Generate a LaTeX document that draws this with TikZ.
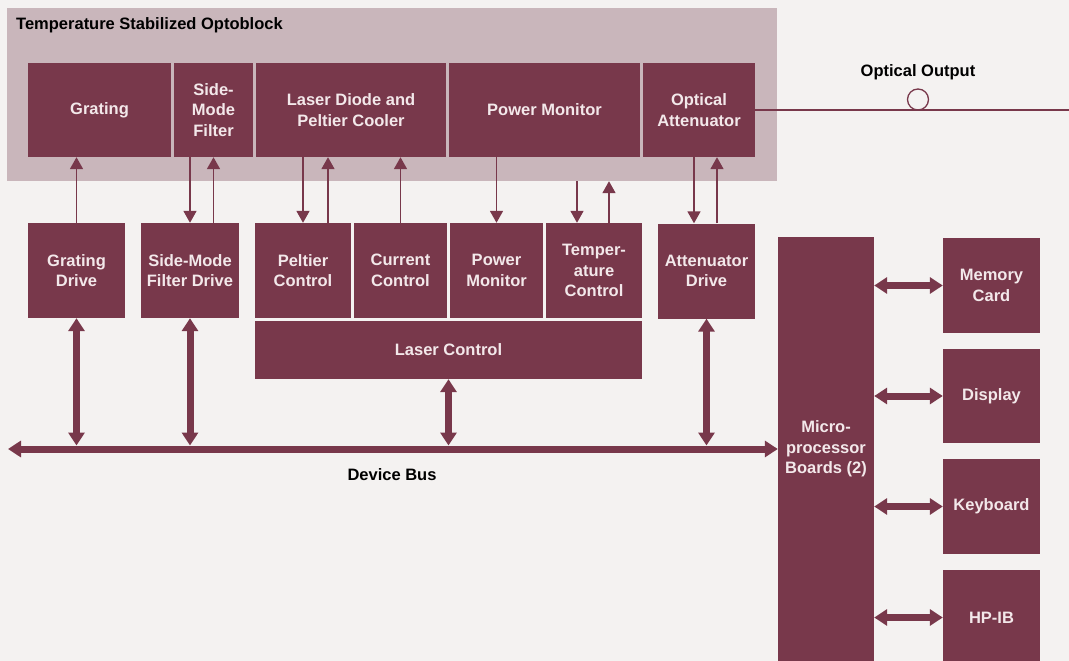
\documentclass[tikz,border=0pt]{standalone}
\usepackage{fontspec}
\setmainfont{Liberation Sans}
\usetikzlibrary{arrows.meta}

\definecolor{boxred}{RGB}{120,56,75}
\definecolor{optogrey}{RGB}{201,182,187}
\definecolor{paper}{RGB}{244,242,241}
\definecolor{boxtext}{RGB}{243,232,234}

\begin{document}
\begin{tikzpicture}[x=1pt,y=-1pt,
      every node/.style={
        inner sep=0pt,
        font=\fontsize{16.5}{20.5}\selectfont\bfseries % condensed-looking bold labels
      },
      blk/.style={fill=boxred, text=boxtext, align=center},
      sig/.style={draw=boxred, line width=1.7pt, -{Triangle[width=13pt,length=12pt]}},
      bus/.style={draw=boxred, line width=7pt,
        {Triangle[width=16pt,length=13pt]}-{Triangle[width=16pt,length=13pt]}}
      ]
      \clip (0,0) rectangle (1069,661);
      \fill[paper] (0,0) rectangle (1069,661);

      % optoblock
      \node[fill=optogrey, minimum width=770pt, minimum height=173pt] (opto) at (392,94.5) {};
      \node[anchor=west] (title) at (16,25) {Temperature Stabilized Optoblock};

      \node[blk, minimum width=143pt, minimum height=94pt] (grat) at (99.5,110) {Grating};
      \node[blk, minimum width=79pt, minimum height=94pt] (smf) at (213.5,110) {Side-\\Mode\\Filter};
      \node[blk, minimum width=190pt, minimum height=94pt] (ldpc) at (351,110) {Laser Diode and\\Peltier Cooler};
      \node[blk, minimum width=191pt, minimum height=94pt] (pmon) at (544.5,110) {Power Monitor};
      \node[blk, minimum width=112pt, minimum height=94pt] (oatt) at (699,110) {Optical\\Attenuator};

      % drives and controls
      \node[blk, minimum width=97pt, minimum height=95pt] (gdrv) at (76.5,270.5) {Grating\\Drive};
      \node[blk, minimum width=98pt, minimum height=95pt] (sdrv) at (190,270.5) {Side-Mode\\Filter Drive};
      \node[blk, minimum width=96pt, minimum height=95pt] (pelt) at (303,270.5) {Peltier\\Control};
      \node[blk, minimum width=93pt, minimum height=95pt] (curr) at (400.5,270.5) {Current\\Control};
      \node[blk, minimum width=93pt, minimum height=95pt] (pmc) at (496.5,270.5) {Power\\Monitor};
      \node[blk, minimum width=96pt, minimum height=95pt] (temp) at (594,270.5) {Temper-\\ature\\Control};
      \node[blk, minimum width=387pt, minimum height=58pt] (lctl) at (448.5,350) {Laser Control};
      \node[blk, minimum width=97pt, minimum height=95pt] (adrv) at (706.5,271) {Attenuator\\Drive};

      % processor side
      \node[blk, minimum width=96pt, minimum height=424pt] (micro) at (826,449) {Micro-\\processor\\Boards (2)};
      \node[blk, minimum width=97pt, minimum height=95pt] (mem) at (991.5,285.5) {Memory\\Card};
      \node[blk, minimum width=97pt, minimum height=94pt] (disp) at (991.5,396) {Display};
      \node[blk, minimum width=97pt, minimum height=95pt] (kbd) at (991.5,506.5) {Keyboard};
      \node[blk, minimum width=97pt, minimum height=95pt] (hpib) at (991.5,617.5) {HP-IB};

      % optical output
      \coordinate (fibre) at (1069,110);
      \node[circle, draw=boxred, line width=1.3pt, minimum size=21pt] (conn) at (918,99.5) {};
      \node (outlbl) at (918,72) {Optical Output};
      \draw[boxred, line width=1.3pt] (oatt.east) -- (fibre);

      % signal lines
      \draw[sig] (gdrv.north) -- (gdrv.north |- grat.south);
      \draw[sig] (smf.south -| sdrv.north) -- (sdrv.north);
      \draw[sig] (sdrv.north -| smf.south) -- (smf.south);
      \draw[sig] (ldpc.south -| pelt.north) -- (pelt.north);
      \draw[sig] ([xshift=25pt]pelt.north) -- ([xshift=25pt]pelt.north |- ldpc.south);
      \draw[sig] (curr.north) -- (curr.north |- ldpc.south);
      \draw[sig] (pmon.south -| pmc.north) -- (pmc.north);
      \draw[sig] ([xshift=-17pt]temp.north |- opto.south) -- ([xshift=-17pt]temp.north);
      \draw[sig] ([xshift=15pt]temp.north) -- ([xshift=15pt]temp.north |- opto.south);
      \draw[sig] ([xshift=-12.5pt]adrv.north |- oatt.south) -- ([xshift=-12.5pt]adrv.north);
      \draw[sig] ([xshift=10.5pt]adrv.north) -- ([xshift=10.5pt]adrv.north |- oatt.south);

      % device bus
      \coordinate (busL) at (8,449);
      \draw[bus] (busL) -- (micro.west);
      \node (bustxt) at (392,475) {Device Bus};
      \draw[bus, shorten >=3.5pt] (gdrv.south) -- (gdrv.south |- busL);
      \draw[bus, shorten >=3.5pt] (sdrv.south) -- (sdrv.south |- busL);
      \draw[bus, shorten >=3.5pt] (lctl.south) -- (lctl.south |- busL);
      \draw[bus, shorten >=3.5pt] (adrv.south) -- (adrv.south |- busL);

      \draw[bus] (micro.east |- mem.west) -- (mem.west);
      \draw[bus] (micro.east |- disp.west) -- (disp.west);
      \draw[bus] (micro.east |- kbd.west) -- (kbd.west);
      \draw[bus] (micro.east |- hpib.west) -- (hpib.west);
    \end{tikzpicture}
\end{document}
